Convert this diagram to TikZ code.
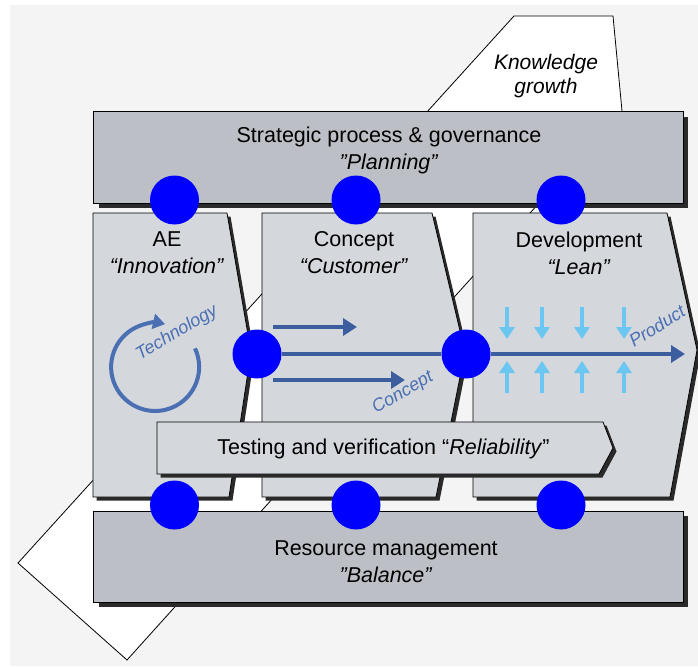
\documentclass[tikz,border=0pt]{standalone}
\usepackage{fontspec}
\setmainfont{Liberation Sans}
\usetikzlibrary{arrows.meta,shadows}

\definecolor{bgc}{HTML}{F4F4F4}
\definecolor{barfill}{HTML}{BCC0C6}
\definecolor{boxfill}{HTML}{D4D7DC}
\definecolor{flowblue}{HTML}{3D5E9E}
\definecolor{techblue}{HTML}{4A6FB3}
\definecolor{leanblue}{HTML}{6CC6F2}
\definecolor{dotblue}{HTML}{0000FF}
\definecolor{shadowc}{HTML}{2A2A2A}

% straight double quote, bypassing the TeX ligature mapping
\newcommand{\sq}{\char34}

\tikzset{
  bigfont/.style={font=\fontsize{21.5}{27}\selectfont},
  lbl/.style={bigfont, align=center, text=black, inner sep=0pt},
  slanted/.style={font=\fontsize{18}{20}\selectfont\itshape, text=techblue, inner sep=0pt},
  barbox/.style={draw=black, line width=1pt, fill=barfill,
    drop shadow={shadow xshift=5pt, shadow yshift=-5pt, fill=shadowc, opacity=1}},
  stagebox/.style={draw=black, line width=0.8pt, fill=boxfill,
    drop shadow={shadow xshift=3.5pt, shadow yshift=-3.5pt, fill=shadowc, opacity=1}},
  dot/.style={circle, fill=dotblue, minimum size=49pt, inner sep=0pt},
  flow/.style={draw=flowblue, line width=4.5pt},
  flowtip/.style={-{Triangle[length=14pt,width=17pt]}},
  leanarrow/.style={draw=leanblue, line width=4pt, -{Triangle[length=12pt,width=15pt]}},
}

\begin{document}
\begin{tikzpicture}[x=1pt,y=-1pt]
\useasboundingbox (0,0) rectangle (698,666);
\fill[white] (0,0) rectangle (698,666);
\fill[bgc] (10,5) rectangle (698,666);

% knowledge-growth band running diagonally behind everything
\draw[fill=white, line width=0.8pt]
  (18,563) -- (514,16) -- (613,16) -- (622,111) -- (127,660) -- cycle;
\node[lbl, font=\fontsize{21}{24}\selectfont\itshape] (know) at (546,76)
  {Knowledge\\growth};

% top and bottom bars
\node[barbox, minimum width=589.5pt, minimum height=91pt, inner sep=0pt]
  (plan) at (388.25,157.5) {};
\node[barbox, minimum width=589.5pt, minimum height=91pt, inner sep=0pt]
  (res) at (388.25,556.5) {};

% stage boxes
\path[stagebox] (93,213) -- (227,213) -- (251,352) -- (229,497) -- (93,497) -- cycle;
\path[stagebox] (262,213) -- (432,213) -- (465,352) -- (436,497) -- (262,497) -- cycle;
\path[stagebox] (473,213) -- (667,213) -- (697,350) -- (670,497) -- (473,497) -- cycle;

% testing bar
\path[stagebox] (157,422) -- (603,422) -- (613,448) -- (599,474) -- (157,474) -- cycle;

% texts
\node[lbl] (plantxt) at (389,150) {Strategic process \& governance\\\textit{\sq Planning\sq}};
\node[lbl] (restxt) at (386,562) {Resource management\\\textit{\sq Balance\sq}};
\node[lbl] (aetxt) at (167,253) {AE\\\textit{“Innovation”}};
\node[lbl] (contxt) at (354,253) {Concept\\\textit{“Customer”}};
\node[lbl] (devtxt) at (579,253) {Development\\\textit{“Lean”}};
\node[lbl] (testtxt) at (383.5,449) {Testing and verification “\textit{Reliability}”};

% connection dots
\node[dot] (ct1) at (174.5,200) {};
\node[dot] (ct2) at (356,200) {};
\node[dot] (ct3) at (561,200) {};
\node[dot] (cm1) at (257,354) {};
\node[dot] (cm2) at (466,354) {};
\node[dot] (cb1) at (174.5,505) {};
\node[dot] (cb2) at (356,505) {};
\node[dot] (cb3) at (561,505) {};

% technology cycle
\draw[draw=techblue, line width=4pt, -{Triangle[length=12pt,width=15pt]}]
  (195,348.4) arc[start angle=-25, end angle=283, radius=44];
\node[slanted, rotate=31] (tech) at (177,333) {Technology};

% concept arrows
\coordinate (ca1s) at (273,327);
\coordinate (ca1e) at (357,327);
\coordinate (ca2s) at (273,380);
\coordinate (ca2e) at (405,380);
\draw[flow, flowtip] (ca1s) -- (ca1e);
\draw[flow, flowtip] (ca2s) -- (ca2e);
\draw[flow] (cm1) -- (cm2);
\coordinate (pend) at (685,354);
\draw[flow, flowtip] (cm2) -- (pend);
\node[slanted, rotate=30] (contag) at (403,393) {Concept};
\node[slanted, rotate=32] (prodtag) at (657,326) {Product};

% lean pressure arrows
\foreach \x/\n in {507/a,542/b,582/c,624/d}{
  \coordinate (dn\n s) at (\x,307);
  \coordinate (dn\n e) at (\x,339);
  \coordinate (up\n s) at (\x,393);
  \coordinate (up\n e) at (\x,361);
  \draw[leanarrow] (dn\n s) -- (dn\n e);
  \draw[leanarrow] (up\n s) -- (up\n e);
}
\end{tikzpicture}
\end{document}
